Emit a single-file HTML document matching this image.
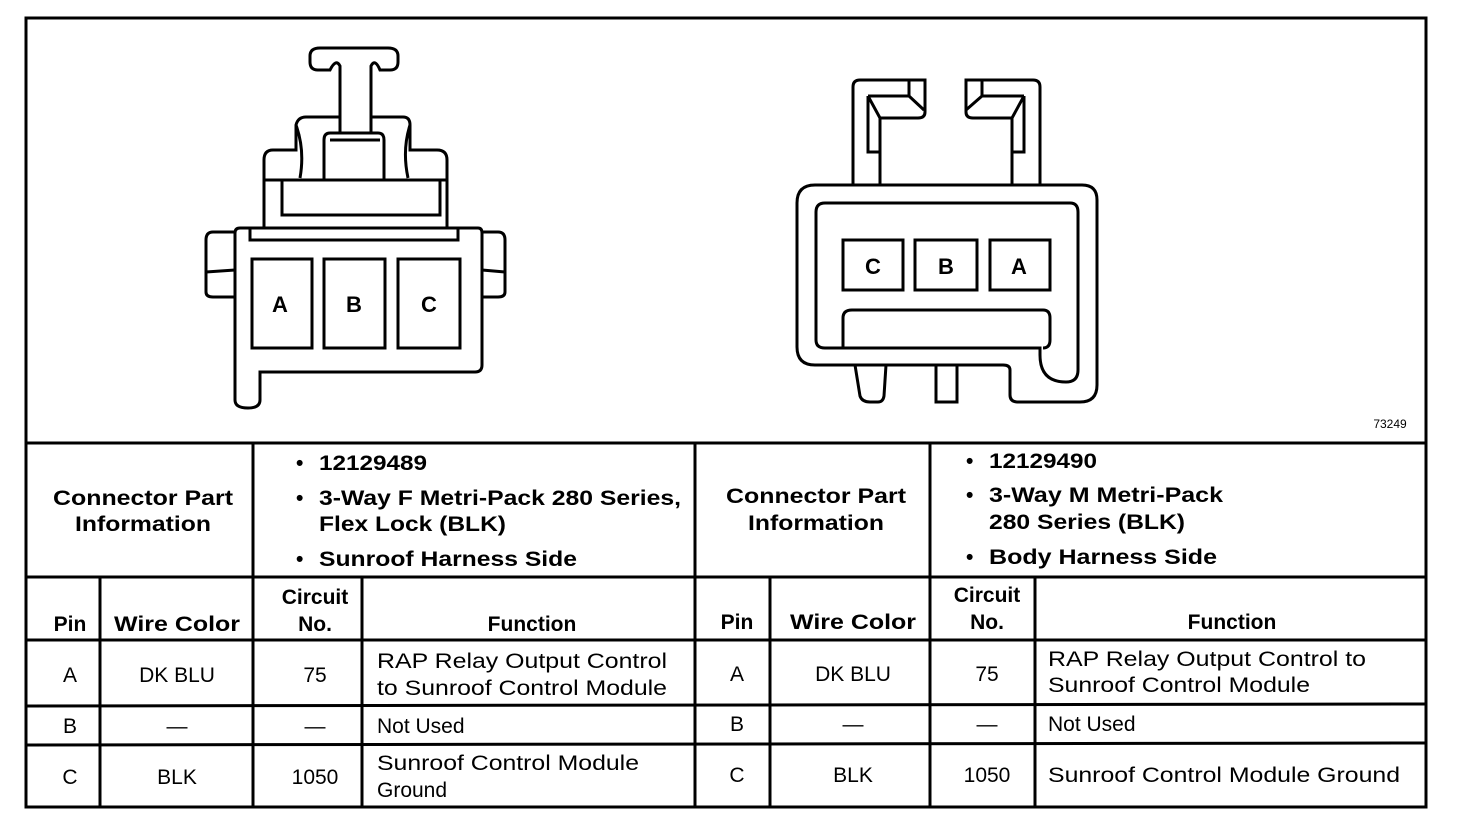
<!DOCTYPE html>
<html><head><meta charset="utf-8"><style>
html,body{margin:0;padding:0;background:#fff}
svg{display:block}
text{font-family:"Liberation Sans",sans-serif;fill:#000}
.b{font-weight:bold;font-size:21px}
.r{font-size:21px}
.p{font-weight:bold;font-size:22px}
</style></head><body>
<svg width="1472" height="824" viewBox="0 0 1472 824" xmlns="http://www.w3.org/2000/svg">
<g fill="none" stroke="#000" stroke-width="3">
<rect x="26" y="18" width="1400" height="789"/>
<line x1="26" y1="443" x2="1426" y2="443"/>
<line x1="26" y1="577" x2="1426" y2="577"/>
<line x1="26" y1="640" x2="1426" y2="640"/>
<line x1="26" y1="706" x2="1426" y2="704"/>
<line x1="26" y1="745" x2="1426" y2="743"/>
<line x1="253" y1="443" x2="253" y2="807"/>
<line x1="695" y1="443" x2="695" y2="807"/>
<line x1="930" y1="443" x2="930" y2="807"/>
<line x1="100" y1="577" x2="100" y2="807"/>
<line x1="362" y1="577" x2="362" y2="807"/>
<line x1="770" y1="577" x2="770" y2="807"/>
<line x1="1035" y1="577" x2="1035" y2="807"/>

<!-- left connector -->
<path d="M240 228 H478 Q482 228 482 233 V365 Q482 372 475 372 H260 V400 Q260 408 248 408 Q235 408 235 400 V233 Q235 228 240 228 Z"/>
<path d="M235 232 H213 Q206 232 206 240 V292 Q206 297 213 297 H235"/>
<line x1="206" y1="272" x2="235" y2="270"/>
<path d="M482 232 H498 Q505 232 505 240 V292 Q505 297 498 297 H482"/>
<line x1="505" y1="272" x2="482" y2="270"/>
<path d="M250 228 V240 H458 V228"/>
<rect x="252" y="259" width="60" height="89"/>
<rect x="324" y="259" width="61" height="89"/>
<rect x="398" y="259" width="62" height="89"/>
<path d="M264 228 V160 Q264 150 273 150 H296 V125 Q298 117 306 117 H340 M371 117 H403 Q410 117 410 125 V150 H437 Q447 150 447 160 V228"/>
<line x1="264" y1="180" x2="447" y2="180"/>
<path d="M282 180 V215 H440 V180"/>
<path d="M324 180 V140 Q324 133 330 133 H378 Q384 133 384 140 V180"/>
<line x1="330" y1="140" x2="380" y2="140"/>
<path d="M340 133 V66 Q336 58 330 70 H318 Q310 70 310 62 V56 Q310 48 320 48 H388 Q398 48 398 56 V62 Q398 70 390 70 H380 Q375 58 371 66 V133"/>
<path d="M296 125 Q305 150 300 178 M410 125 Q402 150 408 178"/>

<!-- right connector -->
<path d="M815 185 H1082 Q1097 185 1097 200 V385 Q1097 402 1080 402 H1018 Q1010 402 1010 395 V370 Q1010 365 1003 365 H815 Q797 365 797 347 V203 Q797 185 815 185 Z"/>
<path d="M825 203 H1070 Q1078 203 1078 212 V370 Q1078 382 1066 382 Q1040 382 1040 355 V348 H825 Q816 348 816 340 V212 Q816 203 825 203 Z"/>
<rect x="843" y="240" width="60" height="50"/>
<rect x="915" y="240" width="62" height="50"/>
<rect x="990" y="240" width="60" height="50"/>
<path d="M843 348 V318 Q843 310 852 310 H1043 Q1050 310 1050 318 V340 Q1050 348 1043 348"/>
<path d="M855 365 L860 396 Q862 402 870 402 H878 Q883 402 884 396 L886 365"/>
<path d="M936 365 V402 H957 V365"/>
<path d="M853 185 V87 Q853 80 860 80 H925 V112 Q925 118 918 118 H880 V185 M868 96 V152 H880"/>
<path d="M868 96 H909 L924 110 M909 80 V96 M868 96 L880 118"/>
<path d="M1040 185 V87 Q1040 80 1033 80 H966 V112 Q966 118 973 118 H1012 V185 M1024 96 V152 H1012"/>
<path d="M1024 96 H982 L966 110 M982 80 V96 M1024 96 L1012 118"/>
</g>
<text x="280" y="312" class="p" text-anchor="middle">A</text>
<text x="354" y="312" class="p" text-anchor="middle">B</text>
<text x="429" y="312" class="p" text-anchor="middle">C</text>
<text x="873" y="274" class="p" text-anchor="middle">C</text>
<text x="946" y="274" class="p" text-anchor="middle">B</text>
<text x="1019" y="274" class="p" text-anchor="middle">A</text>
<text x="1390" y="428" style="font-size:12px" text-anchor="middle">73249</text>

<text x="143" y="505" class="b" text-anchor="middle" textLength="180" lengthAdjust="spacingAndGlyphs">Connector Part</text>
<text x="143" y="531" class="b" text-anchor="middle" textLength="136" lengthAdjust="spacingAndGlyphs">Information</text>
<text x="296" y="470" class="b">•</text>
<text x="319" y="470" class="b" textLength="108" lengthAdjust="spacingAndGlyphs">12129489</text>
<text x="296" y="505" class="b">•</text>
<text x="319" y="505" class="b" textLength="362" lengthAdjust="spacingAndGlyphs">3-Way F Metri-Pack 280 Series,</text>
<text x="319" y="531" class="b" textLength="187" lengthAdjust="spacingAndGlyphs">Flex Lock (BLK)</text>
<text x="296" y="566" class="b">•</text>
<text x="319" y="566" class="b" textLength="258" lengthAdjust="spacingAndGlyphs">Sunroof Harness Side</text>
<text x="816" y="503" class="b" text-anchor="middle" textLength="180" lengthAdjust="spacingAndGlyphs">Connector Part</text>
<text x="816" y="530" class="b" text-anchor="middle" textLength="136" lengthAdjust="spacingAndGlyphs">Information</text>
<text x="966" y="468" class="b">•</text>
<text x="989" y="468" class="b" textLength="108" lengthAdjust="spacingAndGlyphs">12129490</text>
<text x="966" y="502" class="b">•</text>
<text x="989" y="502" class="b" textLength="234" lengthAdjust="spacingAndGlyphs">3-Way M Metri-Pack</text>
<text x="989" y="529" class="b" textLength="196" lengthAdjust="spacingAndGlyphs">280 Series (BLK)</text>
<text x="966" y="564" class="b">•</text>
<text x="989" y="564" class="b" textLength="228" lengthAdjust="spacingAndGlyphs">Body Harness Side</text>

<text x="70" y="631" class="b" text-anchor="middle">Pin</text>
<text x="177" y="631" class="b" text-anchor="middle" textLength="126" lengthAdjust="spacingAndGlyphs">Wire Color</text>
<text x="315" y="604" class="b" text-anchor="middle">Circuit</text>
<text x="315" y="631" class="b" text-anchor="middle">No.</text>
<text x="532" y="631" class="b" text-anchor="middle">Function</text>
<text x="737" y="629" class="b" text-anchor="middle">Pin</text>
<text x="853" y="629" class="b" text-anchor="middle" textLength="126" lengthAdjust="spacingAndGlyphs">Wire Color</text>
<text x="987" y="602" class="b" text-anchor="middle">Circuit</text>
<text x="987" y="629" class="b" text-anchor="middle">No.</text>
<text x="1232" y="629" class="b" text-anchor="middle">Function</text>

<text x="70" y="682" class="r" text-anchor="middle">A</text>
<text x="177" y="682" class="r" text-anchor="middle">DK BLU</text>
<text x="315" y="682" class="r" text-anchor="middle">75</text>
<text x="377" y="668" class="r" textLength="290" lengthAdjust="spacingAndGlyphs">RAP Relay Output Control</text>
<text x="377" y="695" class="r" textLength="290" lengthAdjust="spacingAndGlyphs">to Sunroof Control Module</text>
<text x="70" y="733" class="r" text-anchor="middle">B</text>
<text x="177" y="733" class="r" text-anchor="middle">—</text>
<text x="315" y="733" class="r" text-anchor="middle">—</text>
<text x="377" y="733" class="r">Not Used</text>
<text x="70" y="784" class="r" text-anchor="middle">C</text>
<text x="177" y="784" class="r" text-anchor="middle">BLK</text>
<text x="315" y="784" class="r" text-anchor="middle">1050</text>
<text x="377" y="770" class="r" textLength="262" lengthAdjust="spacingAndGlyphs">Sunroof Control Module</text>
<text x="377" y="797" class="r">Ground</text>
<text x="737" y="681" class="r" text-anchor="middle">A</text>
<text x="853" y="681" class="r" text-anchor="middle">DK BLU</text>
<text x="987" y="681" class="r" text-anchor="middle">75</text>
<text x="1048" y="666" class="r" textLength="318" lengthAdjust="spacingAndGlyphs">RAP Relay Output Control to</text>
<text x="1048" y="692" class="r" textLength="262" lengthAdjust="spacingAndGlyphs">Sunroof Control Module</text>
<text x="737" y="731" class="r" text-anchor="middle">B</text>
<text x="853" y="731" class="r" text-anchor="middle">—</text>
<text x="987" y="731" class="r" text-anchor="middle">—</text>
<text x="1048" y="731" class="r">Not Used</text>
<text x="737" y="782" class="r" text-anchor="middle">C</text>
<text x="853" y="782" class="r" text-anchor="middle">BLK</text>
<text x="987" y="782" class="r" text-anchor="middle">1050</text>
<text x="1048" y="782" class="r" textLength="352" lengthAdjust="spacingAndGlyphs">Sunroof Control Module Ground</text>
</svg>
</body></html>
